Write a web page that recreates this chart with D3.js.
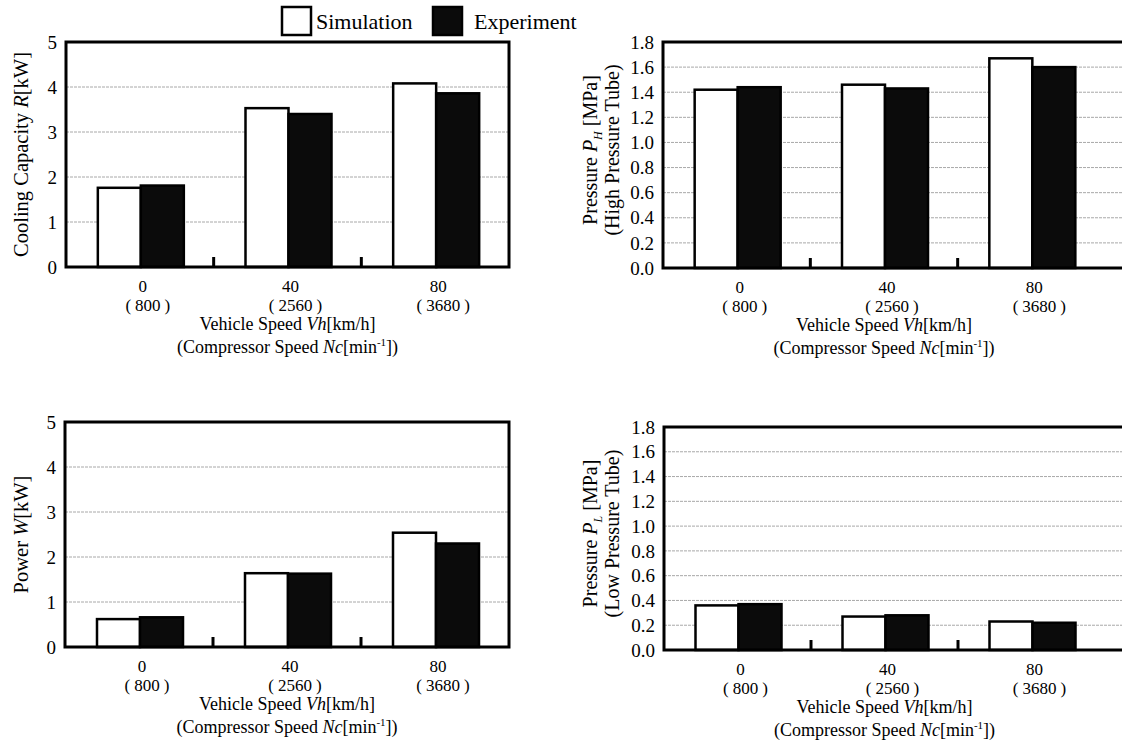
<!DOCTYPE html>
<html>
<head>
<meta charset="utf-8">
<script src="https://cdn.jsdelivr.net/npm/d3@7"></script>
<style>
  body { margin: 0; background: #fff; }
</style>
</head>
<body>
<svg id="chart" width="1122" height="751" font-family="Liberation Serif, DejaVu Serif, serif"></svg>
<script>
// Vehicle speed categories and matching compressor speeds
const categories = ["0", "40", "80"];
const compressorSpeeds = ["800", "2560", "3680"];
const series = ["Simulation", "Experiment"];

// Cooling capacity R [kW]
const coolingSim = [1.76, 3.53, 4.08];
const coolingExp = [1.81, 3.40, 3.86];
// Compressor power W [kW]
const powerSim = [0.62, 1.64, 2.54];
const powerExp = [0.66, 1.63, 2.30];
// High pressure tube P_H [MPa]
const highSim = [1.42, 1.46, 1.67];
const highExp = [1.44, 1.43, 1.60];
// Low pressure tube P_L [MPa]
const lowSim = [0.36, 0.27, 0.23];
const lowExp = [0.37, 0.28, 0.22];

// Axis ticks
const kwTicks = [0, 1, 2, 3, 4, 5];
const mpaTicks = [0.0, 0.2, 0.4, 0.6, 0.8, 1.0, 1.2, 1.4, 1.6, 1.8];

const SERIF = "Liberation Serif, DejaVu Serif, serif";

const svg = d3.select("#chart");

const panels = [
  { x0: 66, x1: 509, frameRight: 509, top: 42, bottom: 267, max: 5, ticks: kwTicks, fmt: d3.format("d"),
    sim: coolingSim, exp: coolingExp, ylab: "cooling", labX: 22 },
  { x0: 663, x1: 1105, frameRight: 1140, top: 42, bottom: 268, max: 1.8, ticks: mpaTicks, fmt: d3.format(".1f"),
    sim: highSim, exp: highExp, ylab: "high", labX: 591 },
  { x0: 65, x1: 509, frameRight: 509, top: 422, bottom: 647, max: 5, ticks: kwTicks, fmt: d3.format("d"),
    sim: powerSim, exp: powerExp, ylab: "power", labX: 22 },
  { x0: 664, x1: 1105, frameRight: 1140, top: 427, bottom: 650, max: 1.8, ticks: mpaTicks, fmt: d3.format(".1f"),
    sim: lowSim, exp: lowExp, ylab: "low", labX: 591 }
];

const barW = 43;

function label(sel) {
  return sel.attr("font-family", SERIF).attr("fill", "#000");
}

panels.forEach(p => {
  const g = svg.append("g");
  const x = d3.scaleBand().domain(categories).range([p.x0, p.x1]).padding(0);
  const y = d3.scaleLinear().domain([0, p.max]).range([p.bottom, p.top]);
  const sub = d3.scaleBand().domain(series).range([-barW + 1, barW + 1]);

  // horizontal gridlines
  g.selectAll("line.grid").data(p.ticks.filter(t => t > 0 && t < p.max)).join("line")
    .attr("x1", p.x0).attr("x2", p.frameRight)
    .attr("y1", d => y(d)).attr("y2", d => y(d))
    .attr("stroke", "#a8a8a8").attr("stroke-width", 1).attr("stroke-dasharray", "3,1");

  // bars
  const rows = categories.map((c, i) => ({ c, vals: [p.sim[i], p.exp[i]] }));
  const grp = g.selectAll("g.cat").data(rows).join("g")
    .attr("transform", d => `translate(${x(d.c) + x.bandwidth() / 2},0)`);
  grp.selectAll("rect").data(d => d.vals.map((v, k) => ({ s: series[k], v }))).join("rect")
    .attr("x", d => sub(d.s))
    .attr("width", sub.bandwidth())
    .attr("y", d => y(d.v))
    .attr("height", d => y(0) - y(d.v))
    .attr("fill", d => d.s === "Simulation" ? "#fff" : "#0b0b0b")
    .attr("stroke", "#000").attr("stroke-width", 2.5);

  // frame
  g.append("rect")
    .attr("x", p.x0).attr("y", p.top)
    .attr("width", p.frameRight - p.x0).attr("height", p.bottom - p.top)
    .attr("fill", "none").attr("stroke", "#000").attr("stroke-width", 3);

  // inner ticks between categories
  g.selectAll("line.sep").data(categories.slice(1)).join("line")
    .attr("x1", d => x(d)).attr("x2", d => x(d))
    .attr("y1", p.bottom).attr("y2", p.bottom - 10)
    .attr("stroke", "#000").attr("stroke-width", 3);

  // y tick labels
  g.selectAll("text.yt").data(p.ticks).join("text").call(label)
    .attr("x", p.x0 - 9).attr("y", d => y(d)).attr("dy", "0.35em")
    .attr("text-anchor", "end").attr("font-size", 19)
    .text(d => p.fmt(d));

  // x tick labels: vehicle speed above, compressor speed in parentheses below
  const xl = g.selectAll("g.xl").data(categories).join("g")
    .attr("transform", d => `translate(${x(d) + x.bandwidth() / 2},0)`);
  xl.append("text").call(label).attr("x", 3).attr("y", p.bottom + 25)
    .attr("text-anchor", "middle").attr("font-size", 17)
    .text(d => d);
  const pl = xl.append("text").call(label).attr("x", 8).attr("y", p.bottom + 44)
    .attr("text-anchor", "middle").attr("font-size", 17);
  pl.append("tspan").text("(");
  pl.append("tspan").attr("dx", 4).text((d, i) => compressorSpeeds[i]);
  pl.append("tspan").attr("dx", 4).text(")");

  // x axis title
  const cx = (p.x0 + p.x1) / 2;
  const t1 = g.append("text").call(label).attr("x", cx).attr("y", p.bottom + 63).attr("text-anchor", "middle").attr("font-size", 18);
  t1.append("tspan").text("Vehicle Speed ");
  t1.append("tspan").attr("font-style", "italic").text("Vh");
  t1.append("tspan").text("[km/h]");
  const t2 = g.append("text").call(label).attr("x", cx).attr("y", p.bottom + 86).attr("text-anchor", "middle").attr("font-size", 18);
  t2.append("tspan").text("(Compressor Speed ");
  t2.append("tspan").attr("font-style", "italic").text("Nc");
  t2.append("tspan").text("[min");
  t2.append("tspan").attr("font-size", 11).attr("dy", -7).text("-1");
  t2.append("tspan").attr("dy", 7).text("])");

  // y axis title
  const cy = (p.top + p.bottom) / 2;
  if (p.ylab === "cooling" || p.ylab === "power") {
    const yt = g.append("text").call(label).attr("font-size", 20.5).attr("text-anchor", "middle")
      .attr("transform", `translate(${p.labX + 6},${cy}) rotate(-90)`);
    if (p.ylab === "cooling") {
      yt.append("tspan").text("Cooling Capacity ");
      yt.append("tspan").attr("font-style", "italic").text("R");
    } else {
      yt.append("tspan").text("Power ");
      yt.append("tspan").attr("font-style", "italic").text("W");
    }
    yt.append("tspan").text("[kW]");
  } else {
    const sub2 = p.ylab === "high" ? "H" : "L";
    const line2 = p.ylab === "high" ? "(High Pressure Tube)" : "(Low Pressure Tube)";
    const yt = g.append("text").call(label).attr("font-size", 20).attr("text-anchor", "middle")
      .attr("transform", `translate(${p.labX + 6},${cy - 5}) rotate(-90)`);
    yt.append("tspan").text("Pressure ");
    yt.append("tspan").attr("font-style", "italic").text("P");
    yt.append("tspan").attr("font-style", "italic").attr("font-size", 12).attr("dy", 5).text(sub2);
    yt.append("tspan").attr("dy", -5).text(" [MPa]");
    g.append("text").call(label).attr("font-size", 20).attr("text-anchor", "middle")
      .attr("transform", `translate(${p.labX + 28},${cy - 5}) rotate(-90)`)
      .text(line2);
  }
});

// legend
const legend = svg.append("g");
const legendItems = [
  { s: series[0], bx: 282, tx: 316, fill: "#fff" },
  { s: series[1], bx: 433, tx: 474, fill: "#0b0b0b" }
];
legend.selectAll("rect").data(legendItems).join("rect")
  .attr("x", d => d.bx).attr("y", 7).attr("width", 29).attr("height", 28)
  .attr("fill", d => d.fill).attr("stroke", "#000").attr("stroke-width", 2.5);
legend.selectAll("text").data(legendItems).join("text").call(label)
  .attr("x", d => d.tx).attr("y", 29).attr("font-size", 22)
  .text(d => d.s);
</script>
</body>
</html>
